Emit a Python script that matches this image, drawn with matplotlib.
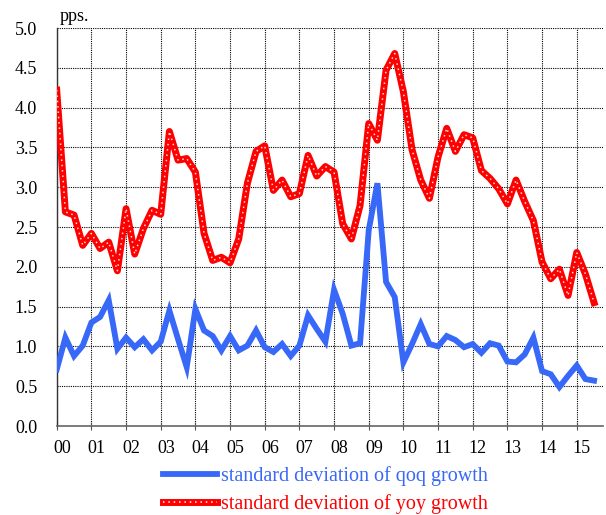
import numpy as np
import matplotlib
matplotlib.use("Agg")
import matplotlib.pyplot as plt
from matplotlib.lines import Line2D

# quarterly observations, 2000Q1 .. 2015Q3
year_labels = ["00", "01", "02", "03", "04", "05", "06", "07",
               "08", "09", "10", "11", "12", "13", "14", "15"]

qoq_sd = [0.71, 1.11, 0.88, 1.01, 1.30, 1.37, 1.58, 0.97, 1.11, 0.99,
          1.09, 0.95, 1.06, 1.45, 1.09, 0.74, 1.47, 1.20, 1.13, 0.95,
          1.13, 0.95, 1.01, 1.20, 0.99, 0.93, 1.03, 0.88, 1.01, 1.39,
          1.22, 1.06, 1.71, 1.41, 1.01, 1.04, 2.46, 3.05, 1.81, 1.62,
          0.80, 1.03, 1.28, 1.03, 1.00, 1.13, 1.08, 0.99, 1.03, 0.92,
          1.04, 1.01, 0.81, 0.80, 0.90, 1.11, 0.69, 0.65, 0.49, 0.63,
          0.76, 0.59, 0.57]

yoy_sd = [4.22, 2.69, 2.65, 2.27, 2.42, 2.23, 2.31, 1.95, 2.73, 2.16,
          2.48, 2.71, 2.66, 3.70, 3.34, 3.36, 3.19, 2.42, 2.08, 2.12,
          2.05, 2.35, 3.05, 3.45, 3.52, 2.96, 3.09, 2.88, 2.92, 3.40,
          3.14, 3.26, 3.19, 2.54, 2.35, 2.77, 3.80, 3.59, 4.47, 4.68,
          4.20, 3.47, 3.09, 2.86, 3.38, 3.74, 3.45, 3.66, 3.62, 3.21,
          3.11, 2.98, 2.79, 3.09, 2.82, 2.58, 2.06, 1.85, 1.97, 1.64,
          2.18, 1.91, 1.55]

BLUE = "#3868f8"
RED = "#ff0000"
SERIF = ["Liberation Serif", "DejaVu Serif"]

plt.rcParams["font.family"] = SERIF

fig = plt.figure(figsize=(6.06, 5.15), dpi=100)
ax = fig.add_axes([0.0936, 0.1728, 0.901, 0.7728])

x = np.arange(len(qoq_sd))
ax.plot(x, qoq_sd, color=BLUE, lw=4.2, solid_joinstyle="miter", zorder=3)
ax.plot(x, yoy_sd, color=RED, lw=5.0, solid_joinstyle="round", zorder=4)
ax.plot(x, yoy_sd, color="white", lw=1.1, linestyle=(0, (1, 2.5)), alpha=0.85, zorder=5)

ax.set_xlim(0, 63)
ax.set_ylim(0, 5.0)

# year gridlines / ticks, labels sit a little right of each tick
ax.set_xticks(np.arange(0, 63, 4))
ax.set_xticklabels([])
ax.set_xticks(np.arange(0, 63, 4) + 0.6, minor=True)
ax.set_xticklabels(year_labels, minor=True)
ax.tick_params(axis="x", which="major", direction="inout", length=6, width=0.8, color="#555555")
ax.tick_params(axis="x", which="minor", length=0, pad=10, labelsize=13)

ax.set_yticks(np.arange(0, 5.01, 0.5))
ax.set_yticklabels([f"{v:.1f}" for v in np.arange(0, 5.01, 0.5)])
ax.tick_params(axis="y", length=0, pad=14, labelsize=13)

ax.grid(True, which="major", color="black", lw=0.8, linestyle=(0, (1, 1)))
ax.set_axisbelow(True)

for s in ["top", "right"]:
    ax.spines[s].set_visible(False)
ax.spines["left"].set_color("#333333")
ax.spines["left"].set_linewidth(1.0)
ax.spines["bottom"].set_color("#666666")
ax.spines["bottom"].set_linewidth(1.2)

fig.text(0.098, 0.968, "pps.", fontsize=13, ha="left", va="center")

h_qoq = Line2D([], [], color=BLUE, lw=4.2)
h_yoy_base = Line2D([], [], color=RED, lw=5.0)
h_yoy_dots = Line2D([], [], color="white", lw=1.1, linestyle=(0, (1, 2.5)))
leg = fig.legend([h_qoq, (h_yoy_base, h_yoy_dots)],
                 ["standard deviation of qoq growth", "standard deviation of yoy growth"],
                 loc="upper left", bbox_to_anchor=(0.269, 0.094), frameon=False,
                 fontsize=14.5, handlelength=2.7, handletextpad=0.2, labelspacing=0.36,
                 borderaxespad=0, borderpad=0)
for txt, c in zip(leg.get_texts(), [BLUE, RED]):
    txt.set_color(c)

fig.savefig("out.png", dpi=100)
